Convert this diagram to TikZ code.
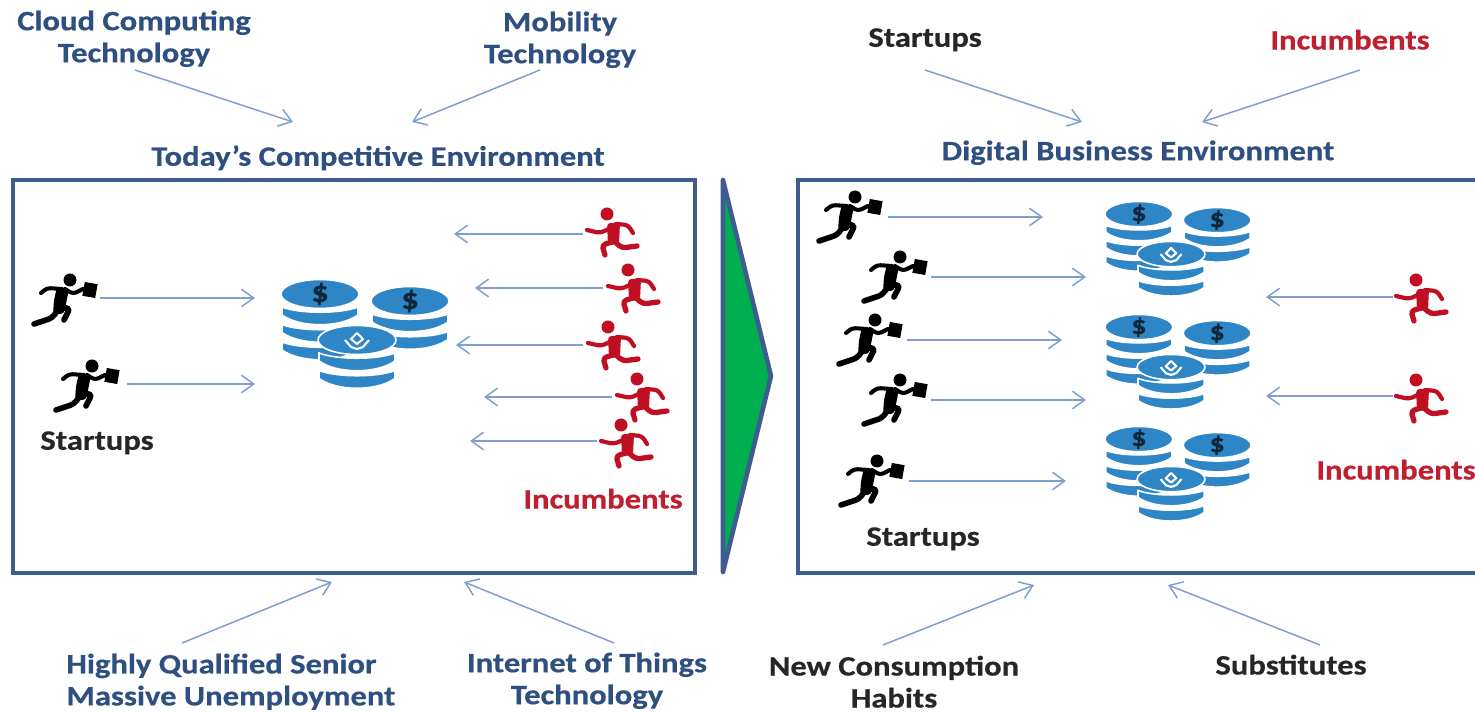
\documentclass[tikz,border=0pt]{standalone}
\usepackage{fontspec}
\setmainfont[BoldFeatures={FakeStretch=1.16,FakeBold=0.5}]{Carlito}
\usetikzlibrary{arrows.meta}
\definecolor{boxblue}{HTML}{3F5C8F}
\definecolor{textblue}{HTML}{2F4F80}
\definecolor{arrowblue}{HTML}{7F9FCF}
\definecolor{coinblue}{HTML}{2F86C6}
\definecolor{runred}{HTML}{C00F23}
\definecolor{textred}{HTML}{C01F2F}
\definecolor{kitegreen}{HTML}{00B050}
\tikzset{
	flow/.style={arrowblue,line width=0.85pt,-{Straight Barb[length=7pt,width=10pt]}},
	bluetext/.style={text=textblue,font=\fontsize{16}{18.2}\selectfont\bfseries,align=center,inner sep=0pt,yshift=-1pt},
	blacktext/.style={bluetext,text=black!85},
	redtext/.style={bluetext,text=textred},
	coin/.style={fill=coinblue,draw=white,line width=0.9pt},
	limb/.style={line cap=round,line join=round,rounded corners=2pt},
	pics/runner/.style={code={
		\fill (4,-20) circle (6.5);
		\fill[rounded corners=2pt] (-9,-13) -- (3,-11) -- (0,4) -- (-2,14) -- (-13,14) -- (-12,0) -- cycle;
		\draw[limb,line width=2.3pt] (-4,-11) -- (-19,-12) -- (-25,-7);
		\draw[limb,line width=2.3pt] (-1,-11) -- (7,-6) -- (17,-11);
		\draw[limb,line width=3.2pt] (-8,10) -- (-14,18) -- (-32,24);
		\draw[limb,line width=3.2pt] (-6,8) -- (4,8) -- (-2,20);
		\fill[rotate around={-10:(24,-10)}] (17.5,-17) rectangle (30.5,-3);
	}},
	pics/redrunner/.style={code={
		\fill[runred] (-5,-18) circle (6.5);
		\fill[runred,rounded corners=2pt] (-5,-9) -- (8,-9) -- (7,12) -- (-4,13) -- cycle;
		\draw[runred,limb,line width=2.4pt] (1,-5) -- (-12,1) -- (-25,-2);
		\draw[runred,limb,line width=2.4pt] (4,-8) -- (16,-7) -- (21,1);
		\draw[runred,limb,line width=3pt] (0,10) -- (-10,13) -- (-7,23);
		\draw[runred,limb,line width=3pt] (3,10) -- (10,16) -- (25,14);
	}},
	pics/coinstack/.style={code={
		\foreach \k in {#1,...,1}{
			\pgfmathsetmacro{\s}{13+(\k-1)*17.5}
			\path[coin] (-38,\s) -- (-38,\s+8) .. controls (-20,\s+21) and (20,\s+21) .. (38,\s+8) -- (38,\s)
				.. controls (20,\s+7) and (-20,\s+7) .. cycle;
		}
		\path[coin] (0,0) ellipse (39 and 14.5);
	}},
	pics/coinpile/.style={code={
		\pic [transform shape] at (-45,-39) {coinstack=3};
		\node[text=black!70!coinblue,font=\fontsize{17}{17}\selectfont\bfseries,transform shape] (dollara) at (-45,-39) {\$};
		\pic [transform shape] at (45,-32) {coinstack=2};
		\node[text=black!70!coinblue,font=\fontsize{17}{17}\selectfont\bfseries,transform shape] (dollarb) at (45,-32) {\$};
		\pic [transform shape] at (-8,7) {coinstack=2};
		\draw[white,line width=1.2pt,line join=round] (-8,0) -- (-2,6) -- (-8,11) -- (-14,6) -- cycle;
		\draw[white,line width=1.2pt,line join=round] (-20,7) -- (-14,14) -- (-8,16) -- (-2,14) -- (4,7);
	}}
}
\begin{document}
\begin{tikzpicture}[x=0.02cm,y=-0.02cm]
\clip (0,0) rectangle (1475,712);

%Boxes
\draw [boxblue,line width=2.2pt] (13,180) rectangle (695,573);
\draw [boxblue,line width=2.2pt] (798,180) rectangle (1490,573);

%Big Arrow
\draw [boxblue,fill=kitegreen,line width=2.6pt,line join=round] (723,180) -- (771,376) -- (723,572) -- cycle;

%Coins
\pic at (365,333) {coinpile};
\foreach \y in {248,361,473}
	\pic [scale=0.87] at (1178,\y) {coinpile};

%Runners
\foreach \x/\y in {66/300,88/386,851/217,896/277,871/340,896/400,873/481}
	\pic at (\x,\y) {runner};
\foreach \x/\y in {612/232,633/288,613/345,642/397,626/443,1421/298,1421/398}
	\pic at (\x,\y) {redrunner};

%Arrows
\foreach \name/\xa/\ya/\xb/\yb in {
	cloud/135/70/293/122,mobility/540/70/412/122,
	startups/925/70/1082/122,incumbents/1360/70/1202/122,
	senior/182/643/332/582,things/614/643/464/582,
	habits/883/645/1034/585,substitutes/1320/645/1168/585,
	la/100/298/255/298,lb/127/384/255/384,
	lc/583/234/454/234,ld/603/288/475/288,le/583/345/456/345,lf/612/397/484/397,lg/597/441/470/441,
	ra/888/217/1043/217,rb/931/277/1086/277,rc/907/340/1062/340,rd/931/400/1086/400,re/909/481/1066/481,
	rf/1393/297/1266/297,rg/1393/396/1266/396}{
	\coordinate (\name from) at (\xa,\ya);
	\coordinate (\name to) at (\xb,\yb);
	\draw [flow] (\name from) -- (\name to);
}

%Labels
\node [bluetext] (cloud) at (134,37) {Cloud Computing\\Technology};
\node [bluetext] (mobility) at (560,38) {Mobility\\Technology};
\node [bluetext] (today) at (378,156) {Today’s Competitive Environment};
\node [bluetext] (digital) at (1138,151) {Digital Business Environment};
\node [bluetext,align=left,anchor=west] (senior) at (66,680) {Highly Qualified Senior\\Massive Unemployment};
\node [bluetext] (things) at (587,679) {Internet of Things\\Technology};
\node [blacktext] (habits) at (894,680) {New Consumption\\Habits};
\node [blacktext] (substitutes) at (1291,663) {Substitutes};
\node [blacktext] (topstartups) at (925,38) {Startups};
\node [redtext] (topincumbents) at (1350,38) {Incumbents};
\node [blacktext] (leftstartups) at (97,441) {Startups};
\node [redtext] (leftincumbents) at (603,497) {Incumbents};
\node [blacktext] (rightstartups) at (923,537) {Startups};
\node [redtext] (rightincumbents) at (1396,468) {Incumbents};
\end{tikzpicture}
\end{document}
